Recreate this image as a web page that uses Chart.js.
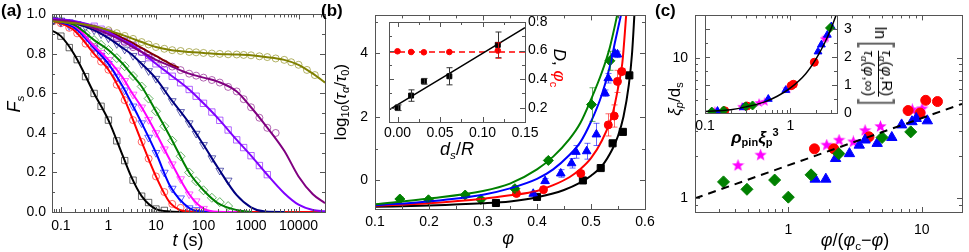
<!DOCTYPE html>
<html>
<head>
<meta charset="utf-8">
<script src="https://cdn.jsdelivr.net/npm/chart.js@4.4.1/dist/chart.umd.min.js"></script>
<style>
  body { margin: 0; background: #fff; }
  #wrap { position: relative; width: 969px; height: 252px; overflow: hidden; font-family: "Liberation Sans", Arial, sans-serif; }
  canvas { position: absolute; left: 0; top: 0; }
  .lab { position: absolute; white-space: nowrap; color: #000; line-height: 1; }
  .c { transform: translate(-50%, -50%); }
  .rl { transform: translate(-50%, -50%) rotate(-90deg); }
  .rr { transform: translate(-50%, -50%) rotate(90deg); }
  sub { font-size: 65%; vertical-align: -0.3em; line-height: 0; }
  sup { font-size: 65%; vertical-align: 0.6em; line-height: 0; }
  .frac { display: inline-flex; flex-direction: column; vertical-align: middle; text-align: center; font-size: 15px; }
  .frac > span { padding: 1px 0; }
  .frac > span:first-child { border-bottom: 1.5px solid #000; }
  .br { display: inline-block; font-size: 40px; font-weight: 100; vertical-align: middle; color: #666; transform: scaleX(0.6); }
</style>
</head>
<body>
<div id="wrap">
  <canvas id="chA" width="969" height="252"></canvas>
  <canvas id="chB" width="969" height="252"></canvas>
  <canvas id="chBi" width="969" height="252"></canvas>
  <canvas id="chC" width="969" height="252"></canvas>
  <canvas id="chCi" width="969" height="252"></canvas>

  <div class="lab" style="left:1px;top:2px;font-size:17px;font-weight:bold">(a)</div>
  <div class="lab rl" style="left:14px;top:104px;font-size:18px"><i>F</i><sub><i>s</i></sub></div>
  <div class="lab c" style="left:188px;top:240px;font-size:18px"><i>t</i> (s)</div>

  <div class="lab" style="left:321px;top:2px;font-size:17px;font-weight:bold">(b)</div>
  <div class="lab rl" style="left:340px;top:102px;font-size:17px">log<sub>10</sub>(<i>τ</i><sub><i>α</i></sub>/<i>τ</i><sub>0</sub>)</div>
  <div class="lab c" style="left:508px;top:238px;font-size:18px"><i>φ</i></div>
  <div class="lab c" style="left:457px;top:149px;font-size:18px"><i>d<sub>s</sub></i>/<i>R</i></div>
  <div class="lab rr" style="left:559px;top:68px;font-size:17px"><i>D</i>, <span style="color:#ff0000"><i>φ</i><sub>c</sub></span></div>

  <div class="lab" style="left:655px;top:2px;font-size:17px;font-weight:bold">(c)</div>
  <div class="lab rl" style="left:674px;top:99px;font-size:17px"><i>ξ</i><sub><i>p</i></sub>/d<sub>s</sub></div>
  <div class="lab c" style="left:855px;top:240px;font-size:18px"><i>φ</i>/(<i>φ</i><sub>c</sub>−<i>φ</i>)</div>
  <div class="lab c" style="left:755px;top:137px;font-size:17px;font-weight:bold"><i>ρ</i><sub>pin</sub><i>ξ</i><sub>p</sub><sup>3</sup></div>
  <div class="lab rr" style="left:879px;top:67px;font-size:16px">ln<span class="br">[</span><span class="frac"><span><i>τ</i><sub><i>α</i></sub>(<i>φ</i>,R)</span><span><i>τ</i><sub><i>α</i></sub>(<i>φ</i>,∞)</span></span><span class="br">]</span></div>
</div>

<script>
/* =======================
   Panel (a) data: F_s(t)
======================= */
const tFit = [0.065, 0.1, 0.2, 0.5, 1, 2, 3, 5, 10, 20, 50, 100, 200, 500, 1000, 2000, 5000, 10000, 20000, 36000];
const fitBlack   = [0.918, 0.89, 0.79, 0.60, 0.465, 0.285, 0.18, 0.08, 0.015, 0.003, 0, null, null, null, null, null, null, null, null, null];
const fitRed     = [0.968, 0.955, 0.915, 0.80, 0.72, 0.59, 0.49, 0.355, 0.18, 0.045, 0.002, 0, 0, 0, 0, 0, 0, 0, 0, 0];
const fitBlue    = [0.972, 0.96, 0.93, 0.83, 0.75, 0.635, 0.555, 0.45, 0.30, 0.13, 0.02, 0.002, 0, null, null, null, null, null, null, null];
const fitMagenta = [0.972, 0.965, 0.94, 0.84, 0.77, 0.68, 0.61, 0.53, 0.40, 0.26, 0.09, 0.017, 0.001, 0, null, null, null, null, null, null];
const fitGreen   = [0.972, 0.965, 0.945, 0.87, 0.82, 0.75, 0.70, 0.635, 0.51, 0.38, 0.20, 0.11, 0.045, 0.01, 0, null, null, null, null, null];
const fitNavy    = [0.975, 0.97, 0.955, 0.92, 0.88, 0.83, 0.80, 0.75, 0.675, 0.575, 0.45, 0.34, 0.225, 0.085, 0.024, 0.002, 0, null, null, null];
const fitViolet  = [0.978, 0.975, 0.965, 0.94, 0.91, 0.87, 0.85, 0.81, 0.75, 0.695, 0.62, 0.55, 0.475, 0.365, 0.285, 0.20, 0.095, 0.037, 0.01, 0.004];
const fitPurple  = [0.972, 0.97, 0.96, 0.93, 0.90, 0.865, 0.84, 0.81, 0.77, 0.74, 0.70, 0.68, 0.66, 0.61, 0.53, 0.44, 0.31, 0.18, 0.09, 0.045];
const fitOlive   = [0.965, 0.962, 0.955, 0.94, 0.92, 0.895, 0.88, 0.86, 0.835, 0.82, 0.81, 0.805, 0.80, 0.797, 0.793, 0.785, 0.77, 0.745, 0.70, 0.655];
const tMaroon    = [0.065, 0.1, 0.2, 0.5, 1, 2, 3, 5, 10, 20, 30];
const fitMaroon  = [0.975, 0.972, 0.962, 0.94, 0.915, 0.88, 0.86, 0.83, 0.79, 0.75, 0.73];

const tMark = [0.07, 0.1, 0.15, 0.22, 0.33, 0.5, 0.7, 1, 1.5, 2.2, 3.3, 5, 7, 10, 15, 22, 33, 50, 70, 100, 150, 220, 330, 500, 700, 1000, 1500, 2200, 3300, 5000, 7000, 10000, 15000, 22000];
const mkBlack   = [null, 0.89, 0.832, 0.771, 0.685, 0.60, 0.535, 0.465, 0.36, 0.26, 0.161, 0.08, 0.048, 0.015, 0.008, null, null, null, null, null, null, null, null, null, null, null, null, null, null, null, null, null, null, null];
const mkRed     = [0.966, 0.955, 0.932, 0.904, 0.852, 0.80, 0.761, 0.72, 0.644, 0.566, 0.465, 0.355, 0.27, 0.18, 0.101, 0.041, 0.021, 0.002, 0, null, null, null, null, null, null, null, null, null, null, null, null, null, null, null];
const mkBlue    = [0.97, 0.96, 0.942, 0.92, 0.875, 0.83, 0.791, 0.75, 0.683, 0.616, 0.535, 0.45, 0.377, 0.30, 0.20, 0.119, 0.07, 0.02, 0.011, null, null, null, null, null, null, null, null, null, null, null, null, null, null, null];
const mkMagenta = [0.97, 0.965, 0.95, 0.93, 0.885, 0.84, 0.806, 0.77, 0.717, 0.664, 0.595, 0.53, 0.467, 0.40, 0.318, 0.242, 0.167, 0.09, 0.055, 0.017, null, null, null, null, null, null, null, null, null, null, null, null, null, null];
const mkGreen   = [0.97, 0.965, 0.953, 0.938, 0.904, 0.87, 0.846, 0.82, 0.779, 0.738, 0.688, 0.635, 0.574, 0.51, 0.434, 0.361, 0.282, 0.20, 0.156, 0.11, 0.072, 0.05, 0.03, null, null, null, null, null, null, null, null, null, null, null];
const mkNavy    = [0.974, 0.97, 0.961, 0.952, 0.936, 0.92, 0.901, 0.88, 0.851, 0.823, 0.791, 0.75, 0.714, 0.675, 0.617, 0.562, 0.507, 0.45, 0.397, 0.34, 0.273, 0.21, 0.16, null, null, null, null, null, null, null, null, null, null, null];
const mkViolet  = [null, null, null, null, null, 0.94, 0.925, 0.91, 0.887, 0.865, 0.843, 0.81, 0.781, 0.75, 0.718, 0.687, 0.654, 0.62, 0.586, 0.55, 0.506, 0.464, 0.415, 0.365, 0.326, 0.285, 0.235, 0.189, null, null, null, null, null, null];
const mkPurple  = [null, null, null, null, null, 0.93, 0.915, 0.90, 0.88, 0.859, 0.834, 0.81, 0.791, 0.77, 0.752, 0.736, 0.718, 0.70, 0.69, 0.68, 0.668, 0.655, 0.633, 0.61, 0.571, 0.53, 0.477, 0.426, 0.40, null, null, null, null, null];
const mkOlive   = [null, null, null, null, null, null, null, 0.92, 0.905, 0.891, 0.876, 0.86, 0.848, 0.835, 0.826, 0.819, 0.815, 0.81, 0.808, 0.805, 0.802, 0.80, 0.798, 0.797, 0.795, 0.793, 0.788, 0.784, 0.777, 0.77, 0.758, 0.745, 0.719, 0.693];

/* =======================
   Panel (b) data: log10(tau/tau0) vs phi
======================= */
const bGreenFitX = [0.1, 0.2, 0.3, 0.35, 0.4, 0.43, 0.46, 0.48, 0.5, 0.52, 0.535, 0.551];
const bGreenFitY = [-0.75, -0.57, -0.33, -0.1, 0.35, 0.75, 1.3, 1.8, 2.55, 3.4, 4.2, 5.4];
const bBlueFitX  = [0.1, 0.2, 0.3, 0.35, 0.4, 0.43, 0.46, 0.48, 0.5, 0.52, 0.535, 0.545, 0.558];
const bBlueFitY  = [-0.78, -0.66, -0.45, -0.25, 0.05, 0.35, 0.8, 1.2, 1.85, 2.7, 3.6, 4.4, 5.4];
const bRedFitX   = [0.1, 0.2, 0.3, 0.35, 0.4, 0.43, 0.46, 0.48, 0.5, 0.52, 0.54, 0.55, 0.558, 0.566];
const bRedFitY   = [-0.8, -0.72, -0.58, -0.47, -0.33, -0.15, 0.1, 0.35, 0.7, 1.25, 2.1, 2.9, 3.7, 5.4];
const bBlackFitX = [0.1, 0.2, 0.3, 0.35, 0.4, 0.45, 0.48, 0.5, 0.52, 0.54, 0.55, 0.56, 0.57, 0.576, 0.581];
const bBlackFitY = [-0.83, -0.79, -0.72, -0.66, -0.53, -0.3, -0.07, 0.15, 0.45, 1.0, 1.4, 2.0, 3.0, 4.0, 5.4];

const bGreenX   = [0.146, 0.199, 0.267, 0.296, 0.359, 0.421, 0.501, 0.535];
const bGreenY   = [-0.585, -0.61, -0.46, -0.6, -0.26, 0.63, 2.39, 3.77];
const bGreenErr = [0.06, 0.06, 0.06, 0.06, 0.1, 0.08, 0.53, 0.3];
const bBlueX    = [0.393, 0.415, 0.444, 0.464, 0.472, 0.492, 0.51, 0.526, 0.532, 0.544, 0.549];
const bBlueY    = [-0.42, -0.02, 0.22, 0.54, 0.9, 0.92, 1.45, 2.75, 3.22, 4.0, 3.97];
const bBlueErr  = [0.05, 0.08, 0.12, 0.15, 0.2, 0.25, 0.35, 0.1, 0.15, 0.1, 0.1];
const bRedX     = [0.362, 0.412, 0.481, 0.532, 0.543, 0.549, 0.557];
const bRedY     = [-0.41, -0.29, 0.22, 1.75, 2.03, 3.12, 3.43];
const bRedErr   = [0.05, 0.05, 0.08, 0.35, 0.35, 0.35, 0.1];
const bBlackX   = [0.324, 0.40, 0.485, 0.518, 0.54, 0.559, 0.571];
const bBlackY   = [-0.71, -0.52, 0.0, 0.39, 1.17, 1.53, 3.31];

// inset (b): D and phi_c vs d_s/R
const insX      = [0, 0.016, 0.031, 0.061, 0.118];
const insD      = [0.20, 0.285, 0.385, 0.42, 0.64];
const insDErr   = [0.02, 0.04, 0.02, 0.06, 0.09];
const insPhiC   = [0.595, 0.59, 0.588, 0.59, 0.60];
const insPhiErr = [0, 0, 0, 0, 0.055];
const insLineX  = [-0.01, 0.15];
const insLineY  = [0.185, 0.76];
const insDashY  = [0.59, 0.59];

/* =======================
   Panel (c) data: xi/ds vs phi/(phic-phi)
======================= */
const cGreenX = [0.327, 0.49, 0.79, 1.0, 1.48, 2.39, 5.04, 8.26];
const cGreenY = [1.31, 1.16, 1.35, 1.02, 1.47, 2.08, 2.71, 2.97];
const cBlueX  = [1.59, 1.91, 2.26, 2.87, 3.4, 3.76, 4.63, 5.96, 7.06, 8.44, 9.08, 11.0];
const cBlueY  = [1.37, 1.37, 1.92, 2.08, 2.39, 2.6, 2.46, 2.71, 3.33, 3.51, 3.7, 3.56];
const cRedX   = [1.57, 2.19, 4.02, 7.89, 9.7, 10.7, 13.1];
const cRedY   = [2.25, 2.25, 2.74, 4.21, 4.04, 4.98, 4.88];
const cMagX   = [0.42, 0.62, 1.94, 2.4, 3.07, 3.76, 4.9, 8.49, 10.05];
const cMagY   = [1.71, 2.03, 2.39, 2.59, 2.52, 3.03, 3.24, 4.26, 4.33];
const cLineX  = [0.2, 20];
const cLineY  = [1.0, 4.7];

// inset (c)
const ciCurveX = [0.1, 0.2, 0.3, 0.5, 0.7, 1, 1.5, 2, 2.5, 3, 3.6];
const ciCurveY = [0.05, 0.12, 0.22, 0.4, 0.6, 0.9, 1.4, 1.95, 2.5, 3.05, 3.7];
const ciGreenX = [0.12, 0.165, 0.3, 0.36, 2.9];
const ciGreenY = [0.05, 0.09, 0.24, 0.27, 3.05];
const ciBlueX  = [0.14, 0.28, 0.55, 0.88, 2.1, 2.3, 2.7, 3.0];
const ciBlueY  = [0.07, 0.2, 0.5, 0.82, 2.2, 2.45, 2.8, 3.1];
const ciRedX   = [0.17, 0.31, 1.02, 1.08, 1.9];
const ciRedY   = [0.08, 0.25, 0.98, 1.03, 1.82];
const ciMagX   = [0.13, 0.27, 0.43, 0.5, 0.92, 2.5, 2.6];
const ciMagY   = [0.06, 0.22, 0.36, 0.4, 0.85, 2.65, 2.7];

/* =======================
   Helpers
======================= */
const FONT = '"Liberation Sans", Arial, sans-serif';

function pts(xs, ys) {
  return xs.map((x, i) => ({ x: x, y: ys[i] })).filter(p => p.y !== null && p.y !== undefined);
}

function rgba(hex, a) {
  const n = parseInt(hex.slice(1), 16);
  return `rgba(${(n >> 16) & 255},${(n >> 8) & 255},${n & 255},${a})`;
}

function lineDs(xs, ys, color, w, extra) {
  return Object.assign({
    data: pts(xs, ys), showLine: true, borderColor: color, borderWidth: w,
    pointRadius: 0, fill: false, cubicInterpolationMode: 'monotone', order: 1
  }, extra || {});
}

function markDs(xs, ys, color, style, r, filled, extra) {
  return Object.assign({
    data: pts(xs, ys), showLine: false, pointStyle: style, pointRadius: r,
    pointBorderColor: color, pointBackgroundColor: filled ? color : 'rgba(0,0,0,0)',
    pointBorderWidth: 1, order: 2
  }, extra || {});
}

function starImg(size, color) {
  const c = document.createElement('canvas');
  c.width = c.height = size;
  const g = c.getContext('2d');
  g.fillStyle = color;
  g.beginPath();
  for (let i = 0; i < 10; i++) {
    const r = i % 2 ? size * 0.21 : size * 0.5;
    const a = -Math.PI / 2 + i * Math.PI / 5;
    g.lineTo(size / 2 + r * Math.cos(a), size / 2 + r * Math.sin(a));
  }
  g.closePath();
  g.fill();
  return c;
}

function logMinor(from, to) {
  const out = [];
  for (let d = -2; d <= 5; d++) {
    for (let k = 2; k <= 9; k++) {
      const v = k * Math.pow(10, d);
      if (v > from && v < to) out.push(v);
    }
  }
  return out;
}

function axis(o) {
  return {
    type: o.type, position: o.pos, min: o.min, max: o.max, bounds: 'data',
    grid: { display: false, drawTicks: false },
    border: { display: false },
    afterBuildTicks: s => { s.ticks = o.major.map(v => ({ value: v })); },
    afterFit: s => { if (s.isHorizontal()) s.height = o.size; else s.width = o.size; },
    ticks: {
      autoSkip: false, maxRotation: 0, minRotation: 0, padding: o.pad, color: '#000',
      font: { family: FONT, size: o.font || 14 },
      callback: o.fmt
    }
  };
}

/* =======================
   Plugins: frame with inward ticks, error bars, white inset
======================= */
const framePlugin = {
  id: 'frame',
  afterDraw(chart, args, o) {
    const { ctx, chartArea: a } = chart;
    const xs = chart.scales.x, ys = chart.scales.y;
    ctx.save();
    ctx.strokeStyle = o.color || '#555';
    ctx.lineWidth = 1;
    ctx.strokeRect(Math.round(a.left) + 0.5, Math.round(a.top) + 0.5,
      Math.round(a.right - a.left), Math.round(a.bottom - a.top));
    const tick = (list, len, horiz) => {
      list.forEach(v => {
        if (horiz) {
          const p = Math.round(xs.getPixelForValue(v)) + 0.5;
          if (p < a.left || p > a.right) return;
          ctx.beginPath();
          ctx.moveTo(p, a.bottom); ctx.lineTo(p, a.bottom - len);
          ctx.moveTo(p, a.top); ctx.lineTo(p, a.top + len);
          ctx.stroke();
        } else {
          const p = Math.round(ys.getPixelForValue(v)) + 0.5;
          if (p < a.top || p > a.bottom) return;
          ctx.beginPath();
          ctx.moveTo(a.left, p); ctx.lineTo(a.left + len, p);
          ctx.moveTo(a.right, p); ctx.lineTo(a.right - len, p);
          ctx.stroke();
        }
      });
    };
    tick(o.xMajor || [], 5, true);
    tick(o.xMinor || [], 3, true);
    tick(o.yMajor || [], 5, false);
    tick(o.yMinor || [], 3, false);
    ctx.restore();
  }
};

const errPlugin = {
  id: 'errbars',
  afterDatasetsDraw(chart) {
    const { ctx, chartArea: a } = chart;
    const ys = chart.scales.y;
    chart.data.datasets.forEach((ds, i) => {
      if (!ds.errs) return;
      const meta = chart.getDatasetMeta(i);
      ctx.save();
      ctx.beginPath();
      ctx.rect(a.left, a.top, a.right - a.left, a.bottom - a.top);
      ctx.clip();
      ctx.strokeStyle = ds.errColor;
      ctx.lineWidth = 1;
      meta.data.forEach((el, j) => {
        const e = ds.errs[j];
        if (!e) return;
        const v = ds.data[j].y;
        const y1 = ys.getPixelForValue(v + e), y2 = ys.getPixelForValue(v - e);
        const x = Math.round(el.x) + 0.5;
        ctx.beginPath();
        ctx.moveTo(x, y1); ctx.lineTo(x, y2);
        ctx.moveTo(x - 3, y1); ctx.lineTo(x + 3, y1);
        ctx.moveTo(x - 3, y2); ctx.lineTo(x + 3, y2);
        ctx.stroke();
      });
      ctx.restore();
    });
  }
};

const whitePlugin = {
  id: 'whitebg',
  beforeDatasetsDraw(chart, args, o) {
    if (!o.on) return;
    const { ctx, chartArea: a } = chart;
    ctx.save();
    ctx.fillStyle = '#fff';
    ctx.fillRect(a.left, a.top, a.right - a.left, a.bottom - a.top);
    ctx.restore();
  }
};

Chart.register(framePlugin, errPlugin, whitePlugin);

function makeChart(id, datasets, scales, padding, frame, white) {
  return new Chart(document.getElementById(id).getContext('2d'), {
    type: 'scatter',
    data: { datasets: datasets },
    options: {
      responsive: false, animation: false, events: [],
      layout: { padding: padding },
      scales: scales,
      plugins: {
        legend: { display: false }, tooltip: { enabled: false },
        frame: frame, whitebg: { on: !!white }
      }
    }
  });
}

/* =======================
   Panel (a)
======================= */
const A = {
  black: '#000000', red: '#ff0000', blue: '#0000ff', magenta: '#ff00ff', green: '#008000',
  navy: '#000080', violet: '#8000ff', purple: '#800080', olive: '#808000', maroon: '#800000'
};
const down = { pointRotation: 180 };

makeChart('chA', [
  markDs(tMark, mkOlive, rgba(A.olive, 0.6), 'circle', 3.5, false),
  markDs(tMark, mkPurple, rgba(A.purple, 0.6), 'circle', 3.5, false),
  markDs(tMark, mkViolet, rgba(A.violet, 0.6), 'rect', 4.5, false),
  markDs(tMark, mkNavy, rgba(A.navy, 0.6), 'triangle', 4.5, false, down),
  markDs(tMark, mkGreen, rgba(A.green, 0.6), 'rectRot', 4.5, false),
  markDs(tMark, mkMagenta, rgba(A.magenta, 0.6), 'triangle', 4.5, false, down),
  markDs(tMark, mkBlue, rgba(A.blue, 0.6), 'triangle', 4.5, false, down),
  markDs(tMark, mkRed, rgba(A.red, 0.6), 'circle', 3.5, false),
  markDs(tMark, mkBlack, rgba(A.black, 0.6), 'rect', 4.5, false),
  lineDs(tFit, fitOlive, A.olive, 2),
  lineDs(tFit, fitPurple, A.purple, 2),
  lineDs(tFit, fitViolet, A.violet, 2),
  lineDs(tMaroon, fitMaroon, A.maroon, 2),
  lineDs(tFit, fitNavy, A.navy, 2),
  lineDs(tFit, fitGreen, A.green, 2),
  lineDs(tFit, fitMagenta, A.magenta, 2),
  lineDs(tFit, fitBlue, A.blue, 2),
  lineDs(tFit, fitRed, A.red, 2),
  lineDs(tFit, fitBlack, A.black, 2)
], {
  x: axis({ type: 'logarithmic', pos: 'bottom', min: 0.065, max: 36000, size: 40, pad: 6,
    major: [0.1, 1, 10, 100, 1000, 10000], fmt: v => String(v) }),
  y: axis({ type: 'linear', pos: 'left', min: 0, max: 1, size: 52, pad: 6,
    major: [0, 0.2, 0.4, 0.6, 0.8, 1.0], fmt: v => v.toFixed(1) })
}, { left: 0, right: 644, top: 8, bottom: 0 }, {
  xMajor: [0.1, 1, 10, 100, 1000, 10000], xMinor: logMinor(0.065, 36000),
  yMajor: [0, 0.2, 0.4, 0.6, 0.8, 1.0], yMinor: [0.1, 0.3, 0.5, 0.7, 0.9]
});

/* =======================
   Panel (b)
======================= */
makeChart('chB', [
  Object.assign(markDs(bGreenX, bGreenY, '#008000', 'rectRot', 5, true), { errs: bGreenErr, errColor: 'rgba(0,128,0,0.6)' }),
  Object.assign(markDs(bBlueX, bBlueY, '#0000ff', 'triangle', 5, true), { errs: bBlueErr, errColor: 'rgba(0,0,255,0.6)' }),
  Object.assign(markDs(bRedX, bRedY, '#ff0000', 'circle', 4, true), { errs: bRedErr, errColor: 'rgba(255,0,0,0.6)' }),
  markDs(bBlackX, bBlackY, '#000000', 'rect', 5, true),
  lineDs(bGreenFitX, bGreenFitY, '#008000', 2),
  lineDs(bBlueFitX, bBlueFitY, '#0000ff', 2),
  lineDs(bRedFitX, bRedFitY, '#ff0000', 2),
  lineDs(bBlackFitX, bBlackFitY, '#000000', 2)
], {
  x: axis({ type: 'linear', pos: 'bottom', min: 0.1, max: 0.6, size: 43, pad: 5,
    major: [0.1, 0.2, 0.3, 0.4, 0.5, 0.6], fmt: v => v.toFixed(1) }),
  y: axis({ type: 'linear', pos: 'left', min: -0.9, max: 5.2, size: 375, pad: 7,
    major: [0, 2, 4], fmt: v => String(v) })
}, { left: 0, right: 324, top: 1, bottom: 0 }, {
  xMajor: [0.1, 0.2, 0.3, 0.4, 0.5, 0.6], xMinor: [0.15, 0.25, 0.35, 0.45, 0.55],
  yMajor: [0, 2, 4], yMinor: [1, 3, 5]
});

makeChart('chBi', [
  Object.assign(markDs(insX, insD, '#000000', 'rect', 3.5, true), { errs: insDErr, errColor: '#333' }),
  Object.assign(markDs(insX, insPhiC, '#ff0000', 'circle', 2.8, true), { errs: insPhiErr, errColor: 'rgba(255,0,0,0.7)' }),
  lineDs(insLineX, insLineY, '#000000', 1.5),
  lineDs(insLineX, insDashY, '#ff0000', 1.5, { borderDash: [6, 4] })
], {
  x: axis({ type: 'linear', pos: 'bottom', min: -0.01, max: 0.15, size: 130, pad: 3, font: 14,
    major: [0, 0.05, 0.1, 0.15], fmt: v => v.toFixed(2) }),
  y: axis({ type: 'linear', pos: 'right', min: 0.1, max: 0.8, size: 40, pad: 3, font: 14,
    major: [0.2, 0.4, 0.6, 0.8], fmt: v => v.toFixed(1) })
}, { left: 389, right: 404, top: 22, bottom: 0 }, {
  xMajor: [0, 0.05, 0.1, 0.15], xMinor: [0.025, 0.075, 0.125],
  yMajor: [0.2, 0.4, 0.6, 0.8], yMinor: [0.3, 0.5, 0.7]
}, true);

/* =======================
   Panel (c)
======================= */
const star = starImg(13, '#ff00ff');
const starSmall = starImg(10, '#ff00ff');

makeChart('chC', [
  markDs(cGreenX, cGreenY, '#008000', 'rectRot', 6, true),
  markDs(cBlueX, cBlueY, '#0000ff', 'triangle', 6, true),
  markDs(cRedX, cRedY, '#ff0000', 'circle', 5, true),
  markDs(cMagX, cMagY, '#ff00ff', star, 6, true),
  lineDs(cLineX, cLineY, '#000000', 2, { borderDash: [8, 6], cubicInterpolationMode: 'default' })
], {
  x: axis({ type: 'logarithmic', pos: 'bottom', min: 0.2, max: 20, size: 40, pad: 10,
    major: [1, 10], fmt: v => String(v) }),
  y: axis({ type: 'logarithmic', pos: 'left', min: 0.8, max: 20, size: 695, pad: 7,
    major: [1, 10], fmt: v => String(v) })
}, { left: 0, right: 1, top: 7, bottom: 0 }, {
  xMajor: [1, 10], xMinor: logMinor(0.2, 20),
  yMajor: [1, 10], yMinor: logMinor(0.8, 20)
});

makeChart('chCi', [
  markDs(ciGreenX, ciGreenY, '#008000', 'rectRot', 4.5, true),
  markDs(ciBlueX, ciBlueY, '#0000ff', 'triangle', 4.5, true),
  markDs(ciRedX, ciRedY, '#ff0000', 'circle', 4, true),
  markDs(ciMagX, ciMagY, '#ff00ff', starSmall, 5, true),
  lineDs(ciCurveX, ciCurveY, '#000000', 1.5)
], {
  x: axis({ type: 'logarithmic', pos: 'bottom', min: 0.1, max: 3.5, size: 139, pad: 5, font: 14,
    major: [0.1, 1], fmt: v => String(v) }),
  y: axis({ type: 'linear', pos: 'right', min: 0, max: 3.5, size: 40, pad: 7, font: 14,
    major: [0, 1, 2, 3], fmt: v => String(v) })
}, { left: 705, right: 92, top: 14, bottom: 0 }, {
  xMajor: [0.1, 1], xMinor: logMinor(0.1, 3.5),
  yMajor: [0, 1, 2, 3], yMinor: [0.5, 1.5, 2.5]
}, true);
</script>
</body>
</html>
